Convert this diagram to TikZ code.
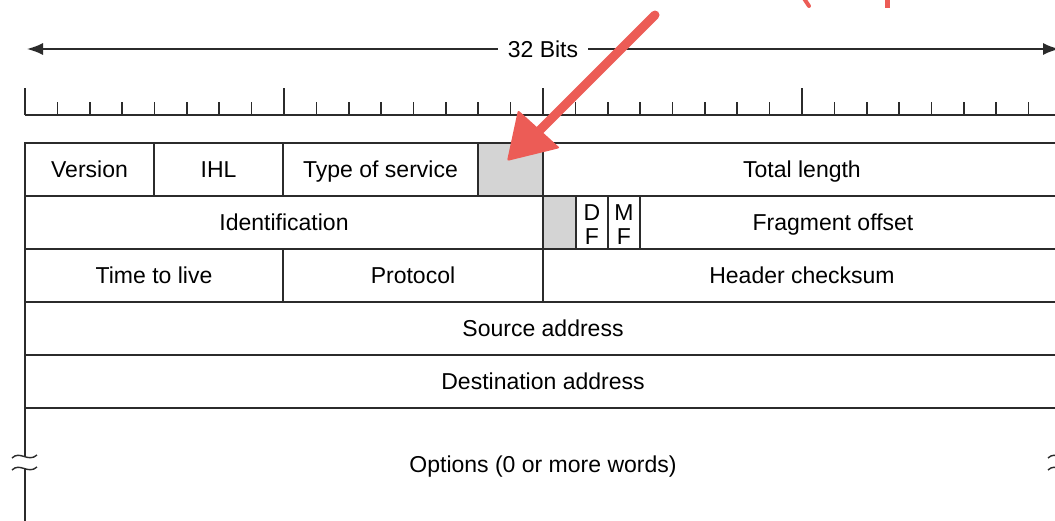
\documentclass[tikz,border=0pt]{standalone}
\usepackage{fontspec}
\setmainfont{Liberation Sans}
\usetikzlibrary{arrows.meta}
\definecolor{ln}{HTML}{2B2B2B}
\definecolor{cellgray}{HTML}{D4D4D4}
\definecolor{pen}{RGB}{236,92,86}
\begin{document}
\begin{tikzpicture}[x=1pt,y=-1pt,
  field/.style={draw=ln, line width=1.6pt, inner sep=0pt, minimum height=53pt, text height=16.5pt, text depth=0pt, font=\fontsize{23}{26}\selectfont},
  grayfield/.style={field, fill=cellgray},
  flagfield/.style={draw=ln, line width=1.6pt, inner sep=0pt, minimum height=53pt, minimum width=32pt, align=center, font=\fontsize{23}{24}\selectfont},
  txt/.style={inner sep=0pt, text height=16.5pt, text depth=0pt, font=\fontsize{23}{26}\selectfont},
  rule/.style={draw=ln, line width=1.6pt},
  brk/.style={draw=ln, line width=1.4pt},
  penstroke/.style={draw=pen, line cap=round}]
\useasboundingbox (0,0) rectangle (1055,520);
\fill[white] (0,0) rectangle (1055,520);
% width arrow
\coordinate (bl) at (27,49);
\coordinate (br) at (1059,49);
\draw[rule, {Latex[length=16pt,width=12pt]}-{Latex[length=16pt,width=12pt]}] (bl) -- (br);
\node[txt, fill=white, inner xsep=10pt, inner ysep=5pt] (bits) at (543,49) {32 Bits};
% ruler
\draw[rule] (25,115) -- (1065,115);
\foreach \i in {0,...,32} {
  \pgfmathsetmacro{\xx}{25+\i*32.375}
  \pgfmathtruncatemacro{\mm}{mod(\i,8)}
  \ifnum\mm=0
    \draw[rule] (\xx,115) -- (\xx,88);
  \else
    \draw[rule] (\xx,115) -- (\xx,102);
  \fi
}
% row 1
\node[field, minimum width=129pt] (version) at (89.5,169.5) {Version};
\node[field, minimum width=129pt] (ihl) at (218.5,169.5) {IHL};
\node[field, minimum width=195pt] (tos) at (380.5,169.5) {Type of service};
\node[grayfield, minimum width=65pt] (unused1) at (510.5,169.5) {};
\node[field, minimum width=518pt] (total) at (802,169.5) {Total length};
% row 2
\node[field, minimum width=518pt] (ident) at (284,222.5) {Identification};
\node[grayfield, minimum width=33pt] (unused2) at (559.5,222.5) {};
\node[flagfield] (df) at (592,222.5) {};
\node[flagfield] (mf) at (624,222.5) {};
\node[txt, align=center, text height=, text depth=, font=\fontsize{23}{24}\selectfont] (dft) at (592,224.5) {D\\F};
\node[txt, align=center, text height=, text depth=, font=\fontsize{23}{24}\selectfont] (mft) at (624,224.5) {M\\F};
\node[field, minimum width=421pt] (frag) at (850.5,222.5) {};
\node[txt] (fragtxt) at (833,222.5) {Fragment offset};
% row 3
\node[field, minimum width=258pt] (ttl) at (154,275.5) {Time to live};
\node[field, minimum width=260pt] (proto) at (413,275.5) {Protocol};
\node[field, minimum width=518pt] (hcs) at (802,275.5) {Header checksum};
% rows 4-5
\node[field, minimum width=1036pt] (src) at (543,328.5) {Source address};
\node[field, minimum width=1036pt] (dst) at (543,381.5) {Destination address};
% options
\node[txt] (opts) at (543,464) {Options (0 or more words)};
\foreach \bx in {25,1061} {
  \draw[rule] (\bx,408) -- (\bx,456);
  \draw[rule] (\bx,468) -- (\bx,522);
  \draw[brk] (\bx-13,458) .. controls (\bx-5,450) and (\bx+3,463) .. (\bx+12,455);
  \draw[brk] (\bx-13,470) .. controls (\bx-5,462) and (\bx+3,475) .. (\bx+12,467);
}
% red annotation
\coordinate (pa) at (655,15);
\coordinate (pb) at (533,137);
\draw[penstroke, line width=9pt] (pa) -- (pb);
\fill[pen, rounded corners=2pt] (518,110) -- (560,148) -- (507,161) -- cycle;
\draw[penstroke, line width=4pt] (803,-3) -- (809,6);
\draw[penstroke, line width=5pt, line cap=butt] (887,-3) -- (887,8);
\end{tikzpicture}
\end{document}
